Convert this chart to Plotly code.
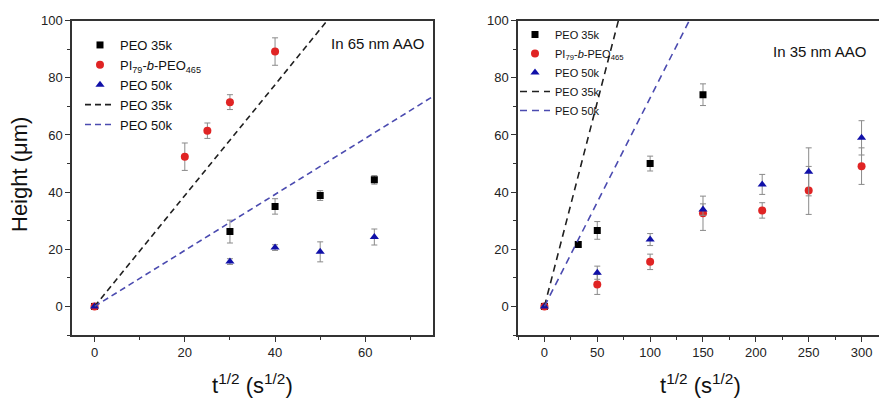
import plotly.graph_objects as go

# ---------------- data: left panel (65 nm AAO) ----------------
left_x_peo35 = [0, 30, 40, 50, 62]
left_y_peo35 = [0, 26.2, 35.0, 38.8, 44.3]
left_e_peo35 = [0, 4.0, 2.7, 1.7, 1.5]

left_x_pi = [0, 20, 25, 30, 40]
left_y_pi = [0, 52.4, 61.5, 71.5, 89.2]
left_e_pi = [0, 4.8, 2.7, 2.6, 4.8]

left_x_peo50 = [0, 30, 40, 50, 62]
left_y_peo50 = [0, 15.7, 20.6, 19.1, 24.3]
left_e_peo50 = [0, 1.0, 1.0, 3.5, 2.8]

left_fit_x = [0, 75]
left_slope_35 = 1.94
left_slope_50 = 0.98

# ---------------- data: right panel (35 nm AAO) ----------------
right_x_peo35 = [0, 32, 50, 100, 150]
right_y_peo35 = [0, 21.7, 26.6, 50.0, 74.1]
right_e_peo35 = [0, 0.8, 3.1, 2.6, 3.8]

right_x_pi = [0, 50, 100, 150, 206, 250, 300]
right_y_pi = [0, 7.7, 15.6, 32.6, 33.6, 40.6, 49.1]
right_e_pi = [0, 3.5, 2.7, 6.0, 2.7, 8.4, 6.4]

right_x_peo50 = [0, 50, 100, 150, 206, 250, 300]
right_y_peo50 = [0, 11.8, 23.4, 33.9, 42.7, 47.1, 59.0]
right_e_peo50 = [0, 2.3, 2.1, 2.0, 3.5, 8.4, 6.0]

right_fit_x = [0, 320]
right_slope_35 = 1.43
right_slope_50 = 0.73

legend_names = ["PEO 35k", "PI<sub>79</sub>-<i>b</i>-PEO<sub>465</sub>", "PEO 50k", "PEO 35k", "PEO 50k"]

BLACK = "#000000"
RED = "#e02424"
BLUE = "#1010a8"
LINE_BLACK = "#202020"
LINE_BLUE = "#4b4bb0"
ERR = "#8a8a8a"
FONT = "Liberation Sans, Arial, sans-serif"

fig = go.Figure()


def add_panel(xa, ya, leg, xs, ys, es, fit_x, s35, s50, msize, dash):
    symbols = ["square", "circle", "triangle-up"]
    colors = [BLACK, RED, BLUE]
    sizes = [msize, msize + 1, msize + 1]
    for i in range(3):
        fig.add_trace(go.Scatter(
            x=xs[i], y=ys[i], mode="markers", name=legend_names[i],
            xaxis=xa, yaxis=ya, legend=leg,
            marker=dict(symbol=symbols[i], color=colors[i], size=sizes[i]),
            error_y=dict(type="data", array=es[i], color=ERR, thickness=1, width=3),
        ))
    for name, slope, col in [(legend_names[3], s35, LINE_BLACK), (legend_names[4], s50, LINE_BLUE)]:
        fig.add_trace(go.Scatter(
            x=fit_x, y=[slope * v for v in fit_x], mode="lines", name=name,
            xaxis=xa, yaxis=ya, legend=leg,
            line=dict(color=col, width=1.6, dash=dash),
        ))


add_panel("x", "y", "legend",
          [left_x_peo35, left_x_pi, left_x_peo50],
          [left_y_peo35, left_y_pi, left_y_peo50],
          [left_e_peo35, left_e_pi, left_e_peo50],
          left_fit_x, left_slope_35, left_slope_50, 7, "6px,4px")
add_panel("x2", "y2", "legend2",
          [right_x_peo35, right_x_pi, right_x_peo50],
          [right_y_peo35, right_y_pi, right_y_peo50],
          [right_e_peo35, right_e_pi, right_e_peo50],
          right_fit_x, right_slope_35, right_slope_50, 7, "7px,5px")

W, H = 879, 407
ydom = [(H - 335) / H, (H - 20.7) / H]

axis_common = dict(
    showline=True, linecolor="#333333", linewidth=1.5,
    ticks="outside", ticklen=5, tickwidth=1, tickcolor="#333333",
    showgrid=False, zeroline=False, automargin=False,
    tickfont=dict(family=FONT, size=13, color="#222222"),
)
minor_common = dict(ticks="outside", ticklen=3, tickcolor="#333333", tick0=0)

fig.update_layout(
    width=W, height=H,
    margin=dict(l=0, r=0, t=0, b=0),
    paper_bgcolor="white", plot_bgcolor="white",
    font=dict(family=FONT, color="#111111"),
    xaxis=dict(domain=[72 / W, 433 / W], range=[-5, 75], dtick=20, tick0=0, mirror=True,
               minor=dict(dtick=10, **minor_common), anchor="y", **axis_common),
    yaxis=dict(domain=ydom, range=[-10, 100], dtick=20, tick0=0, mirror=True,
               minor=dict(dtick=10, **minor_common), anchor="x", **axis_common),
    xaxis2=dict(domain=[518 / W, 1.0], range=[-25, 316.5], dtick=50, tick0=0, mirror=True,
                minor=dict(dtick=25, **minor_common), anchor="y2", **axis_common),
    yaxis2=dict(domain=ydom, range=[-10, 100], dtick=20, tick0=0, mirror=False,
                minor=dict(dtick=10, **minor_common), anchor="x2", **axis_common),
    legend=dict(x=80 / W, y=(H - 30) / H, xanchor="left", yanchor="top",
                bgcolor="rgba(0,0,0,0)", font=dict(family=FONT, size=13, color="#111111"),
                tracegroupgap=0),
    legend2=dict(x=515 / W, y=(H - 20) / H, xanchor="left", yanchor="top",
                 bgcolor="rgba(0,0,0,0)", font=dict(family=FONT, size=11, color="#111111"),
                 tracegroupgap=0),
    showlegend=True,
)

annotations = [
    dict(text="In 65 nm AAO", x=377 / W, y=(H - 43) / H, xref="paper", yref="paper",
         xanchor="center", yanchor="middle",
         showarrow=False, font=dict(family=FONT, size=15, color="#111111")),
    dict(text="In 35 nm AAO", x=819 / W, y=(H - 52) / H, xref="paper", yref="paper",
         xanchor="center", yanchor="middle",
         showarrow=False, font=dict(family=FONT, size=15, color="#111111")),
    dict(text="Height (\u03bcm)", x=20 / W, y=(H - 175) / H, xref="paper", yref="paper",
         xanchor="center", yanchor="middle",
         showarrow=False, textangle=-90, font=dict(family=FONT, size=22, color="#111111")),
    dict(text="t<sup>1/2</sup> (s<sup>1/2</sup>)", x=252 / W, y=(H - 384) / H, xref="paper", yref="paper",
         xanchor="center", yanchor="middle",
         showarrow=False, font=dict(family=FONT, size=22, color="#111111")),
    dict(text="t<sup>1/2</sup> (s<sup>1/2</sup>)", x=700 / W, y=(H - 384) / H, xref="paper", yref="paper",
         xanchor="center", yanchor="middle",
         showarrow=False, font=dict(family=FONT, size=22, color="#111111")),
]
fig.update_layout(annotations=annotations)

fig.write_html("out.html",
               config={"displayModeBar": False},
               post_script="document.body.style.margin='0';document.body.style.overflow='hidden';")
